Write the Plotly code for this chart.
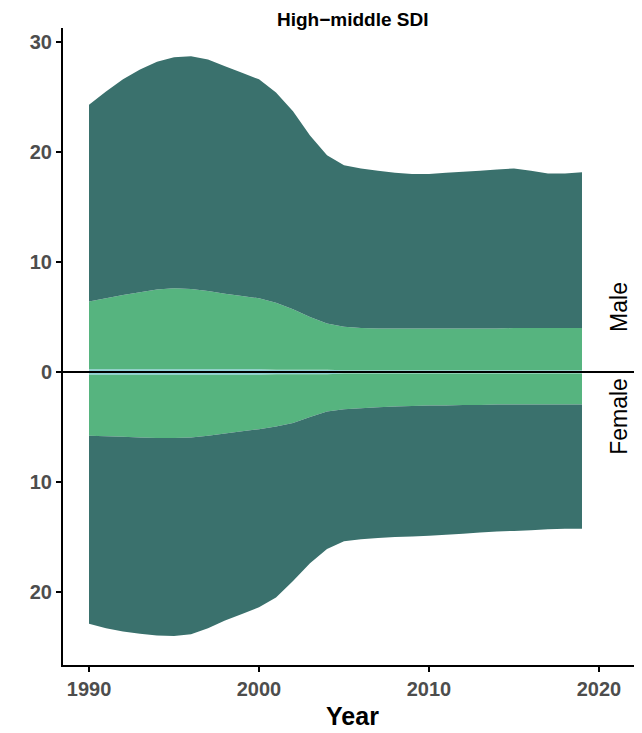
import plotly.graph_objects as go

years = list(range(1990, 2020))

male_blue = [0.25, 0.25, 0.25, 0.25, 0.25, 0.25, 0.25, 0.25, 0.25, 0.25,
             0.25, 0.2, 0.2, 0.2, 0.2, 0.15, 0.15, 0.15, 0.15, 0.15,
             0.15, 0.15, 0.15, 0.15, 0.15, 0.15, 0.15, 0.15, 0.15, 0.15]
male_green = [6.15, 6.45, 6.75, 7.0, 7.25, 7.35, 7.3, 7.1, 6.85, 6.65,
              6.45, 6.1, 5.5, 4.8, 4.2, 3.95, 3.85, 3.8, 3.8, 3.8,
              3.8, 3.8, 3.8, 3.8, 3.8, 3.85, 3.85, 3.85, 3.85, 3.85]
male_dark = [17.9, 18.8, 19.6, 20.25, 20.7, 21.0, 21.15, 21.05, 20.7, 20.3,
             19.9, 19.1, 18.0, 16.5, 15.3, 14.7, 14.5, 14.35, 14.15, 14.05,
             14.05, 14.15, 14.25, 14.35, 14.45, 14.5, 14.3, 14.05, 14.05, 14.15]

female_blue = [0.25, 0.25, 0.25, 0.25, 0.25, 0.25, 0.25, 0.25, 0.25, 0.25,
               0.25, 0.2, 0.2, 0.2, 0.2, 0.15, 0.15, 0.15, 0.15, 0.15,
               0.15, 0.15, 0.15, 0.15, 0.15, 0.15, 0.15, 0.15, 0.15, 0.15]
female_green = [5.55, 5.6, 5.65, 5.7, 5.75, 5.75, 5.7, 5.55, 5.35, 5.15,
                4.95, 4.75, 4.45, 3.9, 3.4, 3.25, 3.15, 3.05, 3.0, 2.95,
                2.9, 2.9, 2.85, 2.85, 2.8, 2.8, 2.8, 2.8, 2.8, 2.8]
female_dark = [17.1, 17.45, 17.7, 17.85, 17.95, 18.0, 17.9, 17.5, 17.0, 16.6,
               16.2, 15.55, 14.35, 13.3, 12.5, 12.0, 11.9, 11.9, 11.85, 11.85,
               11.85, 11.75, 11.7, 11.6, 11.55, 11.5, 11.45, 11.35, 11.3, 11.3]

y_tickvals = [-20, -10, 0, 10, 20, 30]
y_ticktext = ["20", "10", "0", "10", "20", "30"]
x_tickvals = [1990, 2000, 2010, 2020]

col_blue = "#8ECFD6"
col_green = "#56B47F"
col_dark = "#3A716D"

FONT = "Liberation Sans"

fig = go.Figure()
for name, vals, col in [("blue", male_blue, col_blue), ("green", male_green, col_green), ("dark", male_dark, col_dark)]:
    fig.add_trace(go.Scatter(x=years, y=vals, stackgroup="male", mode="none",
                             fillcolor=col, line=dict(width=0), showlegend=False, name=name))
for name, vals, col in [("blue", female_blue, col_blue), ("green", female_green, col_green), ("dark", female_dark, col_dark)]:
    fig.add_trace(go.Scatter(x=years, y=[-v for v in vals], stackgroup="female", mode="none",
                             fillcolor=col, line=dict(width=0), showlegend=False, name=name))

fig.add_shape(type="line", xref="paper", yref="y", x0=0, x1=1, y0=0, y1=0,
              line=dict(color="black", width=2), layer="above")

fig.add_annotation(x=0.96, xref="paper", xanchor="center", y=5.9, yref="y", yanchor="middle",
                   text="Male", textangle=-90,
                   showarrow=False, font=dict(size=23, color="black", family=FONT))
fig.add_annotation(x=0.96, xref="paper", xanchor="center", y=-4.0, yref="y", yanchor="middle",
                   text="Female", textangle=-90,
                   showarrow=False, font=dict(size=23, color="black", family=FONT))

# panel title
fig.add_annotation(x=0.5, xref="paper", xanchor="center", y=1, yref="paper", yanchor="bottom",
                   yshift=-4, text="<b>High\u2212middle SDI</b>", showarrow=False,
                   font=dict(size=19, color="black", family=FONT))

tickfont = dict(size=20, color="#4D4D4D", family=FONT, weight="bold")

fig.update_layout(
    width=634, height=725,
    margin=dict(l=55, r=0, t=20, b=68),
    plot_bgcolor="white", paper_bgcolor="white",
    font=dict(family=FONT),
    xaxis=dict(range=[1988.47, 2022.53], tickvals=x_tickvals, showgrid=False, zeroline=False,
               showline=True, linecolor="black", linewidth=2, ticks="outside", ticklen=5,
               tickcolor="black", tickwidth=1.5, automargin=False,
               tickfont=tickfont,
               title=dict(text="Year", font=dict(size=25, color="black", family=FONT, weight="bold"), standoff=8)),
    yaxis=dict(range=[-26.64, 31.27], tickvals=y_tickvals, ticktext=y_ticktext, showgrid=False, zeroline=False,
               showline=True, linecolor="black", linewidth=2, ticks="outside", ticklen=5,
               tickcolor="black", tickwidth=1.5, automargin=False,
               tickfont=tickfont),
)

fig.write_html("out.html")
